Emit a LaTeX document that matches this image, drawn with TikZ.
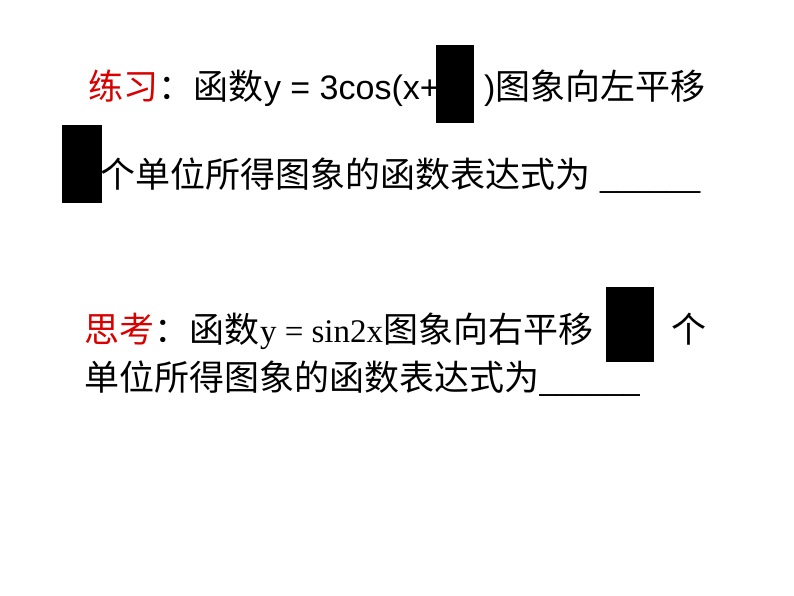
\documentclass[tikz,border=0pt]{standalone}
\usepackage{fontspec}
\setmainfont{Liberation Sans}
\newfontfamily\cjk{Noto Sans CJK SC}
\newfontfamily\tnr{Liberation Serif}
\begin{document}
\begin{tikzpicture}[x=1pt,y=-1pt,
  txt/.style={anchor=base west,inner sep=0pt,font=\fontsize{35}{35}\selectfont},
  redact/.style={fill=black,draw=none}]
\useasboundingbox[fill=white] (0,0) rectangle (794,596);
% line 1
\node[txt,text=red!85!black] (l1a) at (88,100) {\cjk 练习};
\node[txt] (l1b) at (l1a.base east) {\cjk ：函数};
\node[txt,font=\fontsize{34}{34}\selectfont] (l1c) at (l1b.base east) {y = 3cos(x+};
\node[txt,font=\fontsize{34}{34}\selectfont] (l1d) at (484,100) {)};
\node[txt] (l1e) at (l1d.base east) {\cjk 图象向左平移};
\fill[redact] (436,45) rectangle (474,123);
% line 2
\node[txt] (l2a) at (100,187) {\cjk 个单位所得图象的函数表达式为};
\node[txt,font=\fontsize{30}{30}\selectfont] (l2b) at (600,187) {\_\_\_\_\_\_};
\fill[redact] (62,125) rectangle (102,203);
% line 3
\node[txt,text=red!85!black] (l3a) at (84,342) {\cjk 思考};
\node[txt] (l3b) at (l3a.base east) {\cjk ：函数};
\node[txt,font=\fontsize{33}{33}\selectfont\tnr] (l3c) at (l3b.base east) {y = sin2x};
\node[txt] (l3d) at (l3c.base east) {\cjk 图象向右平移};
\node[txt] (l3e) at (671,342) {\cjk 个};
\fill[redact] (606,287) rectangle (654,362);
% line 4
\node[txt] (l4a) at (84,390) {\cjk 单位所得图象的函数表达式为};
\node[txt,font=\fontsize{30}{30}\selectfont] (l4b) at (l4a.base east) {\_\_\_\_\_\_};
\end{tikzpicture}
\end{document}
